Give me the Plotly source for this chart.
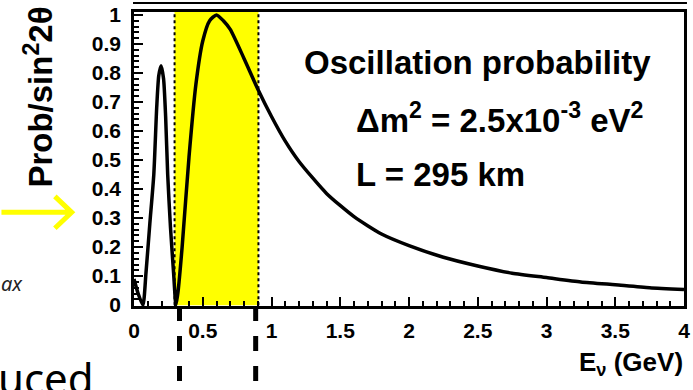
import plotly.graph_objects as go

# ---- data ----
energy_gev = [0.0, 0.03, 0.065, 0.087, 0.115, 0.144, 0.165, 0.18, 0.197, 0.215, 0.23,
              0.245, 0.265, 0.288, 0.305, 0.32, 0.35, 0.4, 0.45, 0.5, 0.55, 0.6, 0.65,
              0.7, 0.8, 0.9, 1.0, 1.1, 1.2, 1.4, 1.6, 1.8, 2.0, 2.25, 2.5, 2.75, 3.0,
              3.25, 3.5, 3.75, 4.0]
prob_norm = [0.09, 0.04, 0.0, 0.11, 0.28, 0.45, 0.68, 0.79, 0.825, 0.78, 0.65,
             0.45, 0.27, 0.11, 0.0, 0.045, 0.20, 0.51, 0.76, 0.91, 0.98, 1.0, 0.98,
             0.95, 0.85, 0.745, 0.65, 0.565, 0.495, 0.385, 0.305, 0.245, 0.205, 0.165,
             0.135, 0.11, 0.095, 0.08, 0.07, 0.06, 0.054]
band_gev = [0.295, 0.905]
x_ticks = [0, 0.5, 1, 1.5, 2, 2.5, 3, 3.5, 4]
x_tick_text = ["0", "0.5", "1", "1.5", "2", "2.5", "3", "3.5", "4"]
y_ticks = [0, 0.1, 0.2, 0.3, 0.4, 0.5, 0.6, 0.7, 0.8, 0.9, 1]
y_tick_text = ["0", "0.1", "0.2", "0.3", "0.4", "0.5", "0.6", "0.7", "0.8", "0.9", "1"]

W, H = 693, 390
ML, MR, MT, MB = 134, 3, 11, 84
PW, PH = W - ML - MR, H - MT - MB


def px(x):
    return (x - ML) / PW


def py(y):
    return (H - MB - y) / PH


FONT = "Liberation Sans"
BOLD = dict(family=FONT, color="black", weight="bold")

fig = go.Figure()
fig.add_trace(go.Scatter(x=energy_gev, y=prob_norm, mode="lines",
                         line=dict(color="black", width=3.5, shape="spline", smoothing=0.6),
                         hoverinfo="skip", showlegend=False))

shapes = [
    dict(type="rect", xref="x", yref="y", x0=band_gev[0], x1=band_gev[1], y0=0, y1=1.01,
         fillcolor="#FFFF00", line=dict(width=0), layer="below"),
    dict(type="line", xref="x", yref="y", x0=band_gev[0], x1=band_gev[0], y0=0, y1=1.01,
         line=dict(color="black", width=2, dash="dot"), layer="below"),
    dict(type="line", xref="x", yref="y", x0=band_gev[1], x1=band_gev[1], y0=0, y1=1.01,
         line=dict(color="black", width=2, dash="dot"), layer="below"),
    # slide decorations: dashed lines below the axis
    dict(type="line", xref="paper", yref="paper", x0=px(180), x1=px(180), y0=py(306), y1=py(392),
         line=dict(color="black", width=5, dash="dash")),
    dict(type="line", xref="paper", yref="paper", x0=px(257), x1=px(257), y0=py(306), y1=py(392),
         line=dict(color="black", width=5, dash="dash")),
    # yellow arrow
    dict(type="path", xref="paper", yref="paper",
         path=f"M {px(0)},{py(212)} L {px(70)},{py(212)} M {px(54)},{py(196)} L {px(71)},{py(212)} L {px(54)},{py(228)}",
         line=dict(color="#FFFF00", width=5)),
    # top border line of the image
    dict(type="line", xref="paper", yref="paper", x0=px(133), x1=px(693), y0=py(2), y1=py(2),
         line=dict(color="black", width=2)),
]

annotations = [
    dict(xref="paper", yref="paper", x=px(304), y=py(62), xanchor="left", yanchor="middle",
         text="Oscillation probability", showarrow=False, font=dict(BOLD, size=33)),
    dict(xref="paper", yref="paper", x=px(356), y=py(117), xanchor="left", yanchor="middle",
         text="Δm<sup>2</sup> = 2.5x10<sup>-3</sup> eV<sup>2</sup>", showarrow=False,
         font=dict(BOLD, size=33)),
    dict(xref="paper", yref="paper", x=px(356), y=py(174), xanchor="left", yanchor="middle",
         text="L = 295 km", showarrow=False, font=dict(BOLD, size=33)),
    dict(xref="paper", yref="paper", x=px(37), y=py(4), xanchor="center", yanchor="top",
         text="Prob/sin<sup>2</sup>2θ", textangle=-90, showarrow=False,
         font=dict(BOLD, size=33)),
    dict(xref="paper", yref="paper", x=px(691), y=py(364), xanchor="right", yanchor="middle",
         text="E<sub>ν</sub> (GeV)", showarrow=False, font=dict(BOLD, size=26)),
    dict(xref="paper", yref="paper", x=px(-2), y=py(283), xanchor="left", yanchor="middle",
         text="<i>ax</i>", showarrow=False,
         font=dict(family="Noto Sans", size=20, color="#222222")),
    dict(xref="paper", yref="paper", x=px(-6), y=py(378), xanchor="left", yanchor="middle",
         text="uced", showarrow=False,
         font=dict(family="Noto Sans", size=42, color="black")),
]

fig.update_layout(
    width=W, height=H,
    margin=dict(l=ML, r=MR, t=MT, b=MB),
    paper_bgcolor="white", plot_bgcolor="white",
    shapes=shapes, annotations=annotations,
    xaxis=dict(range=[0, 4], tickvals=x_ticks, ticktext=x_tick_text,
               ticks="inside", ticklen=9, tickwidth=2, tickcolor="black",
               minor=dict(dtick=0.1, ticks="inside", ticklen=5, tickwidth=2, tickcolor="black"),
               showgrid=False, zeroline=False, showline=True, mirror=True,
               linecolor="black", linewidth=2.5, ticklabeloverflow="allow",
               tickfont=dict(BOLD, size=21), ticklabelstandoff=4),
    yaxis=dict(range=[-0.003, 1.01], tickvals=y_ticks, ticktext=y_tick_text,
               ticks="inside", ticklen=9, tickwidth=2, tickcolor="black",
               minor=dict(dtick=0.02, ticks="inside", ticklen=5, tickwidth=1.5, tickcolor="black"),
               showgrid=False, zeroline=False, showline=True, mirror=True,
               linecolor="black", linewidth=2.5, ticklabeloverflow="allow",
               tickfont=dict(BOLD, size=21), ticklabelstandoff=6),
)

fig.write_html("out.html")
